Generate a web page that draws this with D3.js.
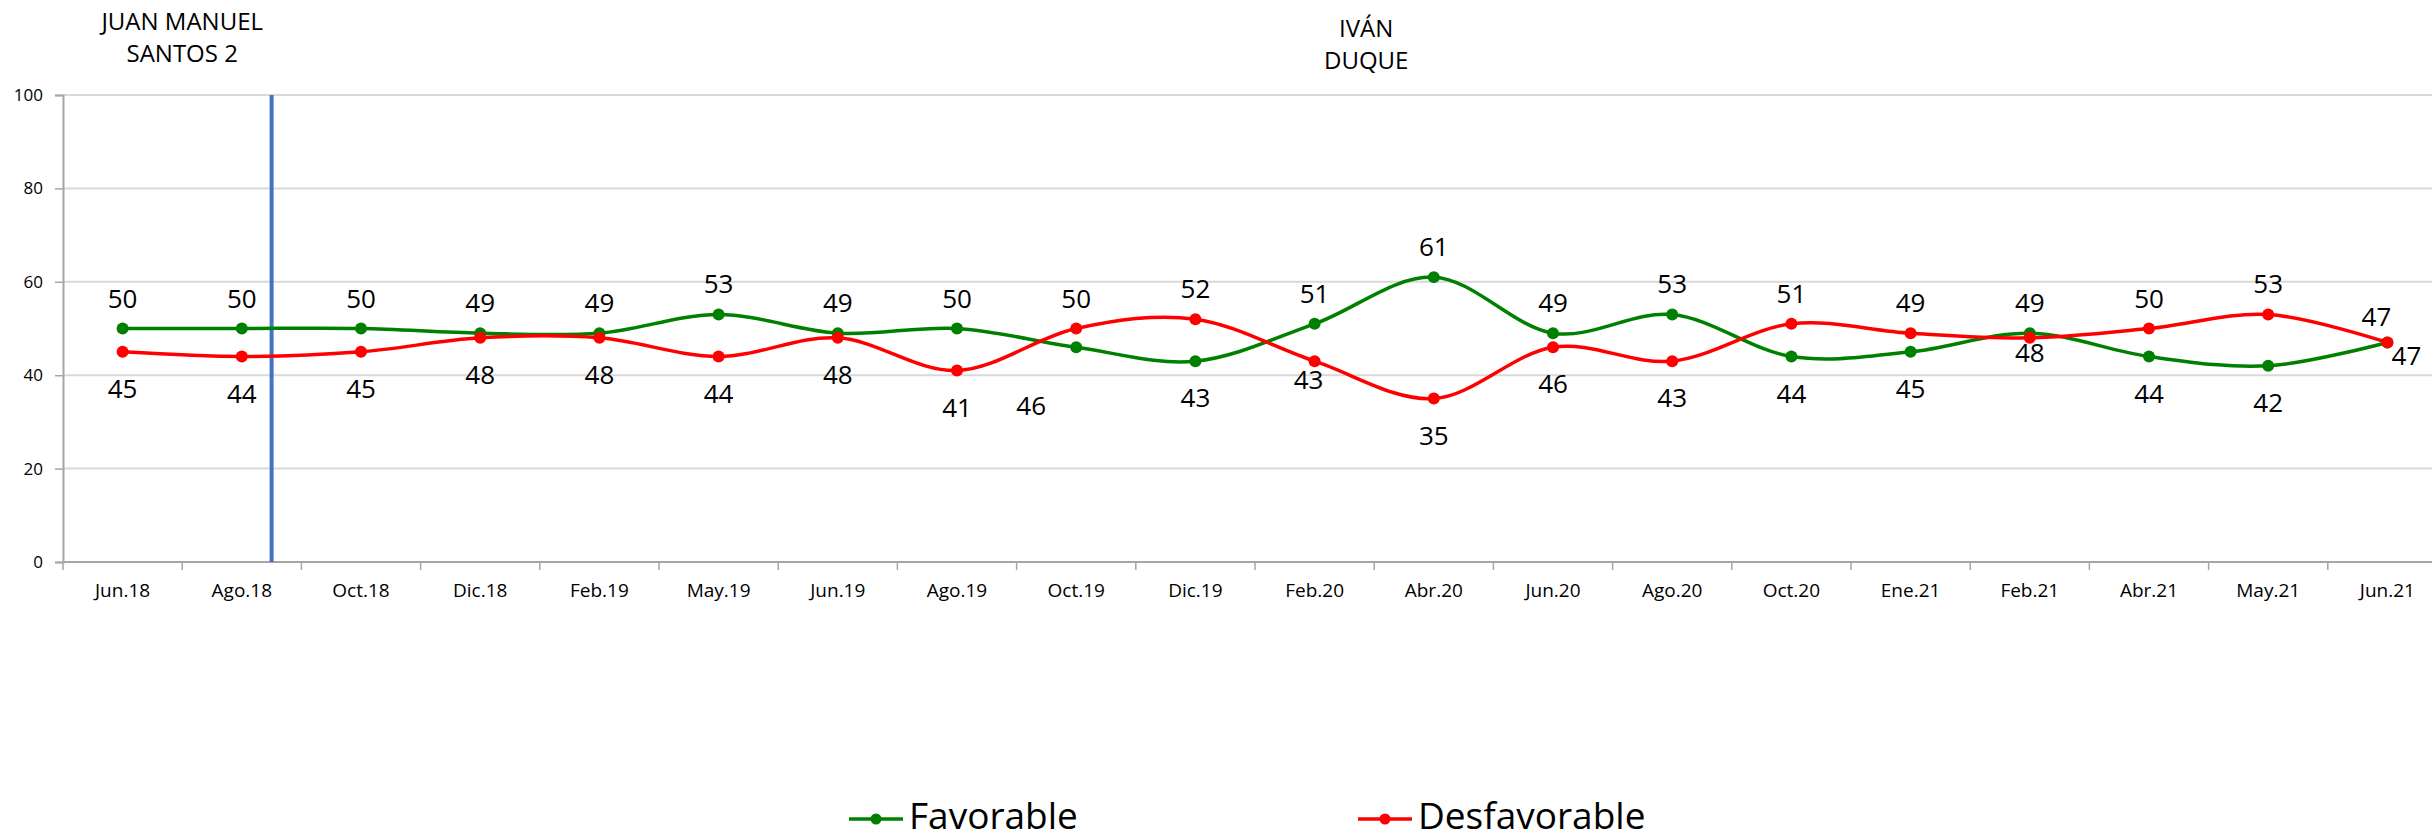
<!DOCTYPE html>
<html>
<head>
<meta charset="utf-8">
<script src="https://cdn.jsdelivr.net/npm/d3@7"></script>
<style>
  body { margin: 0; background: #fff; }
  svg text { font-family: "Open Sans", "Noto Sans", sans-serif; fill: #000; }
</style>
</head>
<body>
<div id="graphDiv"></div>
<script>
// periods (x axis)
var periods = ['Jun.18', 'Ago.18', 'Oct.18', 'Dic.18', 'Feb.19', 'May.19', 'Jun.19', 'Ago.19',
  'Oct.19', 'Dic.19', 'Feb.20', 'Abr.20', 'Jun.20', 'Ago.20', 'Oct.20', 'Ene.21',
  'Feb.21', 'Abr.21', 'May.21', 'Jun.21'];

var favorable = [50, 50, 50, 49, 49, 53, 49, 50, 46, 43, 51, 61, 49, 53, 44, 45, 49, 44, 42, 47];
var desfavorable = [45, 44, 45, 48, 48, 44, 48, 41, 50, 52, 43, 35, 46, 43, 51, 49, 48, 50, 53, 47];

var yTicks = [0, 20, 40, 60, 80, 100];

var seriesNames = ['Favorable', 'Desfavorable'];
var seriesColors = ['#008000', '#ff0000'];

// the two government periods shown above the plot
var governments = [['JUAN MANUEL', 'SANTOS 2'], ['IVÁN', 'DUQUE']];

(function (wei) {
  var width = 2432, height = 840;
  var left = 63, band = 119.2;

  var svg = d3.select('#graphDiv').append('svg')
    .attr('width', width)
    .attr('height', height);

  // plot continues a bit past the right edge, like the original
  var x = d3.scaleBand().domain(periods).range([left, left + band * periods.length]).padding(0);
  var y = d3.scaleLinear().domain([0, 100]).range([562, 95]);
  var cx = function (p) { return x(p) + x.bandwidth() / 2; };

  // gridlines
  svg.append('g').selectAll('line')
    .data(yTicks.filter(function (t) { return t > 0; }))
    .join('line')
    .attr('x1', left).attr('x2', width)
    .attr('y1', function (d) { return y(d); })
    .attr('y2', function (d) { return y(d); })
    .attr('stroke', '#d9d9d9')
    .attr('stroke-width', 2);

  // y axis
  var yAxis = svg.append('g')
    .attr('transform', 'translate(' + left + ',0)')
    .call(d3.axisLeft(y).tickValues(yTicks).tickSize(8).tickPadding(12));
  yAxis.select('.domain').attr('stroke', '#a6a6a6').attr('stroke-width', 2);
  yAxis.selectAll('.tick line').attr('stroke', '#a6a6a6').attr('stroke-width', 1.5);
  yAxis.selectAll('.tick text')
    .style('font-size', '17px')
    .style('font-family', '"Open Sans", sans-serif')
    .attr('fill', '#000');

  // x axis: ticks between categories
  var xg = svg.append('g');
  xg.append('line')
    .attr('x1', left).attr('x2', width)
    .attr('y1', y(0)).attr('y2', y(0))
    .attr('stroke', '#a6a6a6').attr('stroke-width', 2);
  xg.selectAll('line.tk')
    .data(periods)
    .join('line')
    .attr('class', 'tk')
    .attr('x1', function (d) { return x(d); })
    .attr('x2', function (d) { return x(d); })
    .attr('y1', y(0)).attr('y2', y(0) + 8)
    .attr('stroke', '#a6a6a6').attr('stroke-width', 1.5);
  xg.selectAll('text')
    .data(periods)
    .join('text')
    .attr('x', function (d) { return cx(d); })
    .attr('y', 597)
    .attr('text-anchor', 'middle')
    .style('font-size', '19px')
    .text(function (d) { return d; });

  // divider between governments
  var divX = x('Ago.18') + x.bandwidth() * 0.75;
  svg.append('line')
    .attr('x1', divX).attr('x2', divX)
    .attr('y1', y(100)).attr('y2', y(0))
    .attr('stroke', '#4472c4')
    .attr('stroke-width', 4);

  // government titles
  var titlePos = [[x('Ago.18'), 30], [x('Abr.20') - 8, 37]];
  governments.forEach(function (g, i) {
    var t = svg.append('text')
      .attr('x', titlePos[i][0])
      .attr('y', titlePos[i][1])
      .attr('text-anchor', 'middle')
      .style('font-size', '24px');
    g.forEach(function (line, j) {
      t.append('tspan')
        .attr('x', titlePos[i][0])
        .attr('dy', j === 0 ? 0 : 32)
        .text(line);
    });
  });

  // series
  var series = [favorable, desfavorable];
  var line = d3.line()
    .x(function (d, i) { return cx(periods[i]); })
    .y(function (d) { return y(d); })
    .curve(d3.curveCardinal.tension(0));

  series.forEach(function (vals, s) {
    svg.append('path')
      .attr('d', line(vals))
      .attr('fill', 'none')
      .attr('stroke', seriesColors[s])
      .attr('stroke-width', 3.5);
  });

  series.forEach(function (vals, s) {
    svg.append('g').selectAll('circle')
      .data(vals)
      .join('circle')
      .attr('cx', function (d, i) { return cx(periods[i]); })
      .attr('cy', function (d) { return y(d); })
      .attr('r', 6)
      .attr('fill', seriesColors[s]);
  });

  // data labels: higher value above the point, lower one below
  // a few labels were nudged by hand in the original
  var nudge = {
    '0-8': [-45, 22],
    '1-10': [-6, -18],
    '1-16': [0, -22],
    '0-19': [19, -24],
    '1-19': [-11, 4]
  };
  series.forEach(function (vals, s) {
    var other = series[1 - s];
    svg.append('g').selectAll('text')
      .data(vals)
      .join('text')
      .attr('x', function (d, i) {
        var n = nudge[s + '-' + i];
        return cx(periods[i]) + (n ? n[0] : 0);
      })
      .attr('y', function (d, i) {
        var above = d > other[i] || (d === other[i] && s === 1);
        var n = nudge[s + '-' + i];
        var yy = above ? y(d) - 21 : y(d) + 46;
        if (n) yy = yy + n[1];
        return yy;
      })
      .attr('text-anchor', 'middle')
      .style('font-size', '26px')
      .text(function (d) { return d; });
  });

  // legend
  var legX = [849, 1358];
  seriesNames.forEach(function (name, s) {
    var g = svg.append('g').attr('transform', 'translate(' + legX[s] + ',819)');
    g.append('line')
      .attr('x1', 0).attr('x2', 54)
      .attr('stroke', seriesColors[s])
      .attr('stroke-width', 3.5);
    g.append('circle')
      .attr('cx', 27).attr('r', 5.5)
      .attr('fill', seriesColors[s]);
    g.append('text')
      .attr('x', 60).attr('y', 10)
      .style('font-size', '37px')
      .text(name);
  });
})(window);
</script>
</body>
</html>
